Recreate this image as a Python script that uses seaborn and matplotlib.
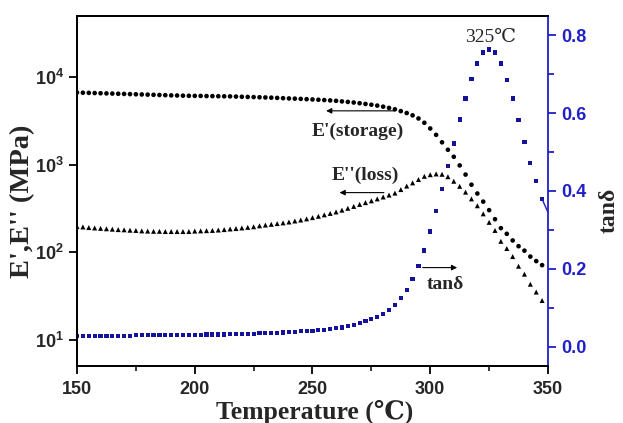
"""
DMA curves: storage / loss modulus (log, left) and tan delta (right)
"""

import numpy as np
import pandas as pd
import matplotlib
matplotlib.use("Agg")
import matplotlib.pyplot as plt
import matplotlib.ticker as mticker
import seaborn as sns

sns.set_style("ticks")
plt.rcParams['font.family'] = ['Liberation Sans', 'DejaVu Sans']
plt.rcParams['mathtext.fontset'] = 'custom'
plt.rcParams['mathtext.rm'] = 'Liberation Sans:bold'
plt.rcParams['mathtext.bf'] = 'Liberation Sans:bold'
plt.rcParams['mathtext.it'] = 'Liberation Sans:bold'

# temperature (C), one reading every 2.5 C
temperature = [
    150.0, 152.5, 155.0, 157.5, 160.0, 162.5, 165.0, 167.5, 170.0, 172.5,
    175.0, 177.5, 180.0, 182.5, 185.0, 187.5, 190.0, 192.5, 195.0, 197.5,
    200.0, 202.5, 205.0, 207.5, 210.0, 212.5, 215.0, 217.5, 220.0, 222.5,
    225.0, 227.5, 230.0, 232.5, 235.0, 237.5, 240.0, 242.5, 245.0, 247.5,
    250.0, 252.5, 255.0, 257.5, 260.0, 262.5, 265.0, 267.5, 270.0, 272.5,
    275.0, 277.5, 280.0, 282.5, 285.0, 287.5, 290.0, 292.5, 295.0, 297.5,
    300.0, 302.5, 305.0, 307.5, 310.0, 312.5, 315.0, 317.5, 320.0, 322.5,
    325.0, 327.5, 330.0, 332.5, 335.0, 337.5, 340.0, 342.5, 345.0, 347.5,
]

# E' storage modulus (MPa)
storage = [
    6670, 6640, 6610, 6580, 6550, 6520, 6490, 6460, 6430, 6400,
    6370, 6340, 6310, 6280, 6250, 6220, 6190, 6170, 6140, 6120,
    6110, 6100, 6080, 6070, 6050, 6040, 6030, 6000, 5970, 5940,
    5920, 5890, 5860, 5830, 5790, 5750, 5710, 5680, 5640, 5600,
    5560, 5520, 5470, 5420, 5360, 5280, 5210, 5130, 5040, 4940,
    4840, 4730, 4600, 4450, 4290, 4090, 3890, 3660, 3370, 3010,
    2590, 2190, 1800, 1480, 1230, 980, 770, 590, 468, 378,
    302, 238, 188, 162, 136, 117, 104, 89, 79, 71,
]

# E'' loss modulus (MPa)
loss = [
    196, 194, 191, 189, 187, 185, 183, 181, 180, 178,
    177, 175, 174, 173, 173, 172, 172, 172, 172, 172,
    174, 175, 176, 177, 179, 181, 184, 186, 189, 192,
    195, 200, 204, 208, 212, 216, 221, 227, 233, 240,
    248, 257, 267, 277, 288, 302, 317, 333, 351, 368,
    386, 406, 427, 449, 473, 519, 569, 619, 676, 735,
    767, 783, 776, 728, 646, 565, 485, 406, 339, 274,
    219, 177, 133, 110, 89, 69, 56, 43, 35, 28,
]

# tan delta
tan_delta = [
    0.028, 0.028, 0.028, 0.028, 0.028, 0.028, 0.028, 0.028, 0.028, 0.028,
    0.029, 0.029, 0.029, 0.029, 0.029, 0.029, 0.029, 0.030, 0.030, 0.030,
    0.030, 0.030, 0.031, 0.031, 0.031, 0.031, 0.032, 0.032, 0.032, 0.033,
    0.033, 0.034, 0.034, 0.035, 0.035, 0.036, 0.037, 0.038, 0.039, 0.040,
    0.041, 0.042, 0.043, 0.045, 0.047, 0.049, 0.052, 0.055, 0.060, 0.065,
    0.070, 0.076, 0.084, 0.093, 0.107, 0.125, 0.146, 0.174, 0.208, 0.247,
    0.296, 0.349, 0.405, 0.464, 0.522, 0.584, 0.638, 0.689, 0.728, 0.756,
    0.764, 0.756, 0.728, 0.686, 0.638, 0.582, 0.526, 0.473, 0.425, 0.379,
]

# short connecting line at the end of the tan delta trace
tan_tail_T = [347.5, 350.0]
tan_tail = [0.379, 0.345]

BLUE_AX = '#2020c8'
BLUE_PT = '#12129a'

df = pd.DataFrame({'T': temperature, 'storage': storage,
                   'loss': loss, 'tan': tan_delta})

fig = plt.figure(figsize=(6.23, 4.23), dpi=100)
ax = fig.add_axes([0.1236, 0.1348, 0.7560, 0.8274])
ax2 = ax.twinx()

sns.scatterplot(data=df, x='T', y='storage', ax=ax, marker='o', s=11,
                color='black', edgecolor='none', legend=False)
sns.scatterplot(data=df, x='T', y='loss', ax=ax, marker='^', s=13,
                color='black', edgecolor='none', legend=False)
sns.scatterplot(data=df, x='T', y='tan', ax=ax2, marker='s', s=9,
                color=BLUE_PT, edgecolor='none', legend=False)
ax2.plot(tan_tail_T, tan_tail, color=BLUE_AX, lw=1.0)

# left log axis
ax.set_yscale('log')
ax.set_ylim(5, 5e4)
ax.set_xlim(150, 350)
ax.yaxis.set_major_locator(mticker.FixedLocator([1e1, 1e2, 1e3, 1e4]))
ax.yaxis.set_major_formatter(mticker.FixedFormatter(
    [r'$10^{1}$', r'$10^{2}$', r'$10^{3}$', r'$10^{4}$']))
ax.yaxis.set_minor_locator(mticker.NullLocator())
ax.xaxis.set_major_locator(mticker.MultipleLocator(50))
ax.xaxis.set_minor_locator(mticker.MultipleLocator(25))

# right linear axis
ax2.set_ylim(-0.05, 0.85)
ax2.yaxis.set_major_locator(mticker.MultipleLocator(0.2))
ax2.yaxis.set_minor_locator(mticker.MultipleLocator(0.1))
ax2.yaxis.set_major_formatter(mticker.FormatStrFormatter('%.1f'))

for a in (ax, ax2):
    for sp in a.spines.values():
        sp.set_linewidth(1.3)
        sp.set_color('black')
        sp.set_visible(True)
ax2.spines['right'].set_color(BLUE_AX)
ax.spines['right'].set_visible(False)

ax.tick_params(axis='both', which='major', direction='out', length=6,
               width=1.3, labelsize=13, color='black')
ax.tick_params(axis='x', which='minor', direction='out', length=3.5, width=1.3)
ax.tick_params(axis='x', pad=5)
for lab in ax.get_xticklabels() + ax.get_yticklabels():
    lab.set_fontweight('bold')

ax2.tick_params(axis='y', which='major', direction='out', length=6,
                width=1.3, labelsize=13, colors=BLUE_AX)
ax2.tick_params(axis='y', which='minor', direction='out', length=4,
                width=1.3, colors=BLUE_AX)
for lab in ax2.get_yticklabels():
    lab.set_fontweight('bold')

serif = ['Liberation Serif', 'DejaVu Serif']
ax.set_xlabel('Temperature (℃)', fontsize=18.5, fontweight='bold',
              family=serif)
ax.xaxis.set_label_coords(0.505, -0.097)
ax.set_ylabel("E',E'' (MPa)", fontsize=20.5, fontweight='bold',
              family=serif)
ax.yaxis.set_label_coords(-0.089, 0.47)
ax2.set_ylabel('tanδ', fontsize=17, fontweight='bold', family=serif)
ax2.yaxis.set_label_coords(1.108, 0.446)

# annotations
arrow = dict(arrowstyle='-|>', color='black', lw=0.8, mutation_scale=8)
ax.annotate('', xy=(254.6, 4120), xytext=(285.8, 4120), arrowprops=arrow)
ax.text(249.7, 2430, "E'(storage)", fontsize=14, fontweight='bold',
        family=serif, va='center')
ax.annotate('', xy=(260.3, 479), xytext=(281.5, 479), arrowprops=arrow)
ax.text(258.2, 760, "E''(loss)", fontsize=14, fontweight='bold',
        family=serif, va='center')
ax2.annotate('', xy=(312.6, 0.203), xytext=(295.6, 0.203), arrowprops=arrow)
ax2.text(306.3, 0.159, 'tanδ', fontsize=14, fontweight='bold',
         family=serif, ha='center', va='center')
ax2.text(325.5, 0.795, '325℃', fontsize=14, family=serif,
         ha='center', va='center')

plt.savefig('out.png', dpi=100)
plt.close()
